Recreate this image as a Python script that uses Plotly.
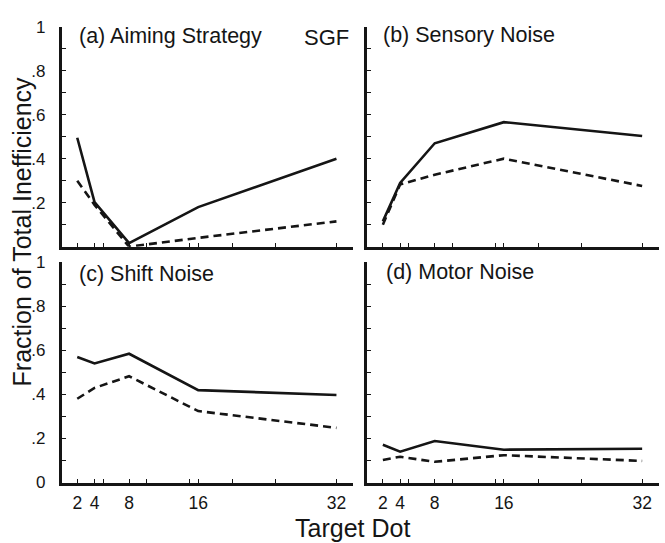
import plotly.graph_objects as go

# Target dot positions
target_dot = [2, 4, 8, 16, 32]

# Fraction of total inefficiency per component: solid and dashed series
aiming_solid = [0.495, 0.203, 0.016, 0.180, 0.400]
aiming_dashed = [0.300, 0.190, 0.000, 0.040, 0.115]

sensory_solid = [0.115, 0.290, 0.470, 0.566, 0.503]
sensory_dashed = [0.100, 0.283, 0.327, 0.400, 0.276]

shift_solid = [0.569, 0.540, 0.584, 0.419, 0.397]
shift_dashed = [0.380, 0.429, 0.482, 0.324, 0.248]

motor_solid = [0.171, 0.140, 0.188, 0.149, 0.153]
motor_dashed = [0.102, 0.117, 0.094, 0.124, 0.098]

panel_titles = ["(a) Aiming Strategy", "(b) Sensory Noise", "(c) Shift Noise", "(d) Motor Noise"]

x_tickvals = [2, 4, 5, 8, 10, 15, 16, 20, 25, 32]
x_ticktext = ["2", "4", "", "8", "", "", "16", "", "", "32"]
y_tickvals = [0, 0.1, 0.2, 0.3, 0.4, 0.5, 0.6, 0.7, 0.8, 0.9, 1.0]
y_ticktext = ["0", "", ".2", "", ".4", "", ".6", "", ".8", "", "1"]
y_ticktext_top = [""] + y_ticktext[1:]

W, H = 665, 543
FONT = "Liberation Sans, Arial, Helvetica, sans-serif"
INK = "#151515"


def px_x(p):
    return p / W


def px_y(p):
    return 1 - p / H


x_dom_left = [px_x(61.7), px_x(353.3)]
x_dom_right = [px_x(367.3), px_x(659.0)]
y_dom_top = [px_y(246.3), px_y(18.3)]
y_dom_bottom = [px_y(490.7), px_y(262.2)]

fig = go.Figure()

panels = [
    (aiming_solid, aiming_dashed, "x", "y"),
    (sensory_solid, sensory_dashed, "x2", "y2"),
    (shift_solid, shift_dashed, "x3", "y3"),
    (motor_solid, motor_dashed, "x4", "y4"),
]

for solid, dashed, xa, ya in panels:
    fig.add_trace(go.Scatter(
        x=target_dot, y=dashed, mode="lines", xaxis=xa, yaxis=ya,
        line=dict(color=INK, width=2.6, dash="8px,5px"),
        showlegend=False, cliponaxis=False,
    ))
    fig.add_trace(go.Scatter(
        x=target_dot, y=solid, mode="lines", xaxis=xa, yaxis=ya,
        line=dict(color=INK, width=2.6),
        showlegend=False, cliponaxis=False,
    ))


def xaxis(domain, anchor, labels):
    return dict(
        domain=domain, anchor=anchor, range=[0.2, 33.95],
        showline=True, linecolor=INK, linewidth=2.6, mirror=False,
        showgrid=False, zeroline=False,
        ticks="inside", ticklen=4, tickwidth=1.3, tickcolor=INK,
        tickmode="array", tickvals=x_tickvals,
        ticktext=x_ticktext if labels else [""] * len(x_tickvals),
        tickfont=dict(family=FONT, size=17.5, color=INK),
        ticklabelstandoff=3,
    )


def yaxis(domain, anchor, texts):
    return dict(
        domain=domain, anchor=anchor, range=[0, 1.0],
        showline=True, linecolor=INK, linewidth=2.6,
        showgrid=False, zeroline=False,
        ticks="inside", ticklen=4, tickwidth=1.3, tickcolor=INK,
        tickmode="array", tickvals=y_tickvals, ticktext=texts,
        tickfont=dict(family=FONT, size=17, color=INK),
        ticklabelstandoff=10,
    )


blank = [""] * len(y_tickvals)
fig.update_layout(
    xaxis=xaxis(x_dom_left, "y", False),
    yaxis=yaxis(y_dom_top, "x", y_ticktext_top),
    xaxis2=xaxis(x_dom_right, "y2", False),
    yaxis2=yaxis(y_dom_top, "x2", blank),
    xaxis3=xaxis(x_dom_left, "y3", True),
    yaxis3=yaxis(y_dom_bottom, "x3", y_ticktext),
    xaxis4=xaxis(x_dom_right, "y4", True),
    yaxis4=yaxis(y_dom_bottom, "x4", blank),
)

title_pos = [(76.5, 28), (381, 26.5), (76.5, 275), (384, 273)]
annotations = []
for text, (px, py) in zip(panel_titles, title_pos):
    annotations.append(dict(
        text=text, x=px_x(px), y=px_y(py), xref="paper", yref="paper",
        xanchor="left", yanchor="middle", showarrow=False,
        font=dict(family=FONT, size=21.5, color=INK),
    ))

annotations.append(dict(
    text="SGF", x=px_x(351), y=px_y(30), xref="paper", yref="paper",
    xanchor="right", yanchor="middle", showarrow=False,
    font=dict(family=FONT, size=22, color=INK),
))
annotations.append(dict(
    text="Fraction of Total Inefficiency", x=px_x(22), y=px_y(231.5),
    xref="paper", yref="paper", xanchor="center", yanchor="middle",
    textangle=-90, showarrow=False,
    font=dict(family=FONT, size=25, color=INK),
))
annotations.append(dict(
    text="Target Dot", x=px_x(352.7), y=px_y(537.5),
    xref="paper", yref="paper", xanchor="center", yanchor="middle",
    showarrow=False, font=dict(family=FONT, size=25, color=INK),
    borderpad=0,
))

fig.update_layout(
    annotations=annotations,
    width=W, height=H,
    margin=dict(l=0, r=0, t=0, b=0),
    paper_bgcolor="white", plot_bgcolor="white",
    showlegend=False,
)

fig.write_html("out.html")
